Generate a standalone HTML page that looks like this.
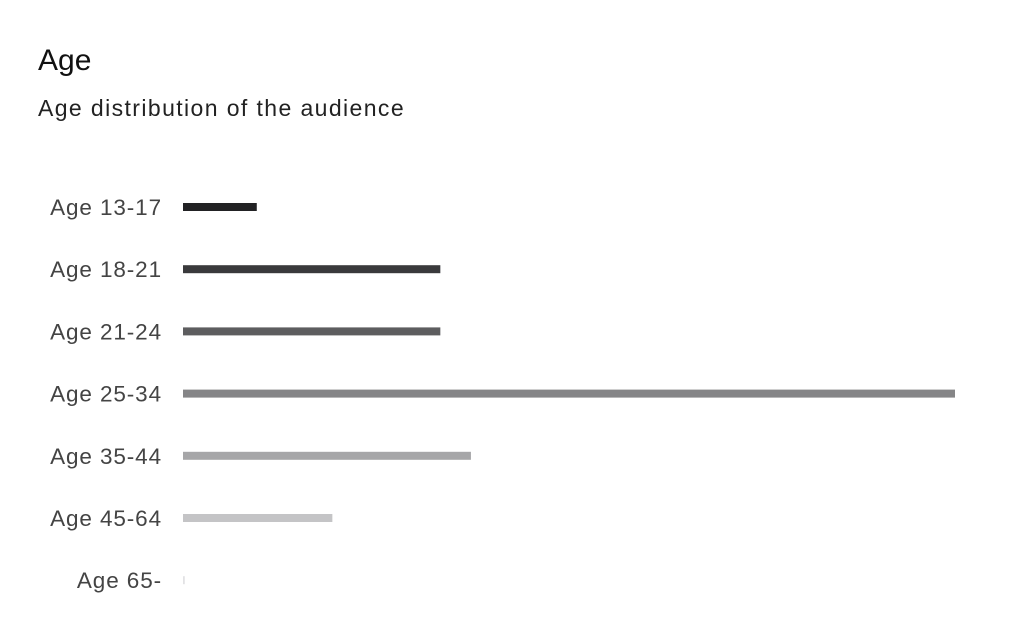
<!DOCTYPE html>
<html><head><meta charset="utf-8"><style>
body{margin:0;background:#fff;width:1012px;height:642px;overflow:hidden;font-family:"Liberation Sans",sans-serif}
#title{position:absolute;left:38px;top:44px;font-size:30px;color:#111;letter-spacing:0px}
#sub{position:absolute;left:38px;top:95px;font-size:23px;color:#222;letter-spacing:1.4px}
svg{position:absolute;left:0;top:0}
</style></head><body>
<div id="title">Age</div>
<div id="sub">Age distribution of the audience</div>
<svg id="c" width="1012" height="642"></svg>
<script>
const categories=["Age 13-17","Age 18-21","Age 21-24","Age 25-34","Age 35-44","Age 45-64","Age 65-"];
const values=[4.1,14.3,14.3,42.9,16.0,8.3,0.1];
const colors=["#222224","#3a3a3c","#5d5d5f","#858587","#a6a6a8","#c4c4c6","#e2e2e4"];
const svg=document.getElementById('c');
const NS="http://www.w3.org/2000/svg";
const x0=183,xw=772,maxV=Math.max(...values);
const xs=v=>v/maxV*xw;
const ys=i=>207+i*62.2;
categories.forEach((c,i)=>{
  const t=document.createElementNS(NS,'text');
  
  
  t.setAttribute('x',162);t.setAttribute('y',ys(i)+8);
  t.setAttribute('text-anchor','end');t.setAttribute('font-size','22.5');t.setAttribute('fill','#444');
  t.setAttribute('letter-spacing','0.9');
  t.textContent=c;svg.appendChild(t);
  const r=document.createElementNS(NS,'rect');
  
  
  r.setAttribute('x',x0);r.setAttribute('y',ys(i)-4);
  r.setAttribute('width',Math.max(1,xs(values[i])));r.setAttribute('height',8);
  r.setAttribute('fill',colors[i]);svg.appendChild(r);
});
</script>
</body></html>
